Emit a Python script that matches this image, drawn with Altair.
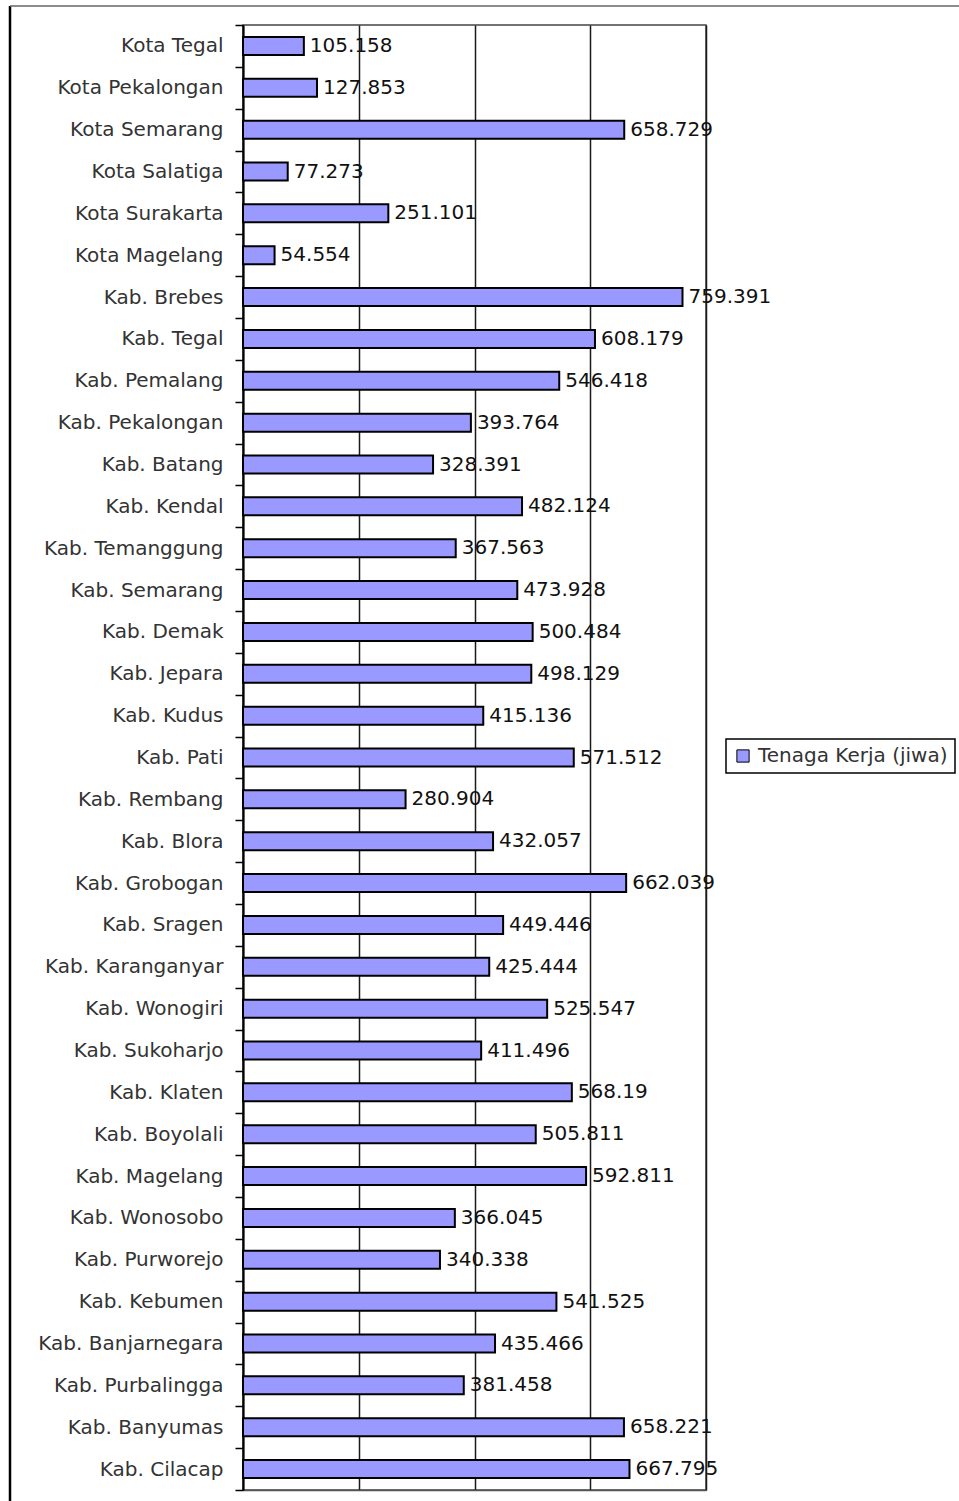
import altair as alt
import pandas as pd

# Regions of Central Java (top to bottom) and their labour force (thousand people)
regions = [
    "Kota Tegal", "Kota Pekalongan", "Kota Semarang", "Kota Salatiga",
    "Kota Surakarta", "Kota Magelang", "Kab. Brebes", "Kab. Tegal",
    "Kab. Pemalang", "Kab. Pekalongan", "Kab. Batang", "Kab. Kendal",
    "Kab. Temanggung", "Kab. Semarang", "Kab. Demak", "Kab. Jepara",
    "Kab. Kudus", "Kab. Pati", "Kab. Rembang", "Kab. Blora",
    "Kab. Grobogan", "Kab. Sragen", "Kab. Karanganyar", "Kab. Wonogiri",
    "Kab. Sukoharjo", "Kab. Klaten", "Kab. Boyolali", "Kab. Magelang",
    "Kab. Wonosobo", "Kab. Purworejo", "Kab. Kebumen", "Kab. Banjarnegara",
    "Kab. Purbalingga", "Kab. Banyumas", "Kab. Cilacap",
]
tenaga_kerja = [
    105.158, 127.853, 658.729, 77.273,
    251.101, 54.554, 759.391, 608.179,
    546.418, 393.764, 328.391, 482.124,
    367.563, 473.928, 500.484, 498.129,
    415.136, 571.512, 280.904, 432.057,
    662.039, 449.446, 425.444, 525.547,
    411.496, 568.19, 505.811, 592.811,
    366.045, 340.338, 541.525, 435.466,
    381.458, 658.221, 667.795,
]
series_name = "Tenaga Kerja (jiwa)"
x_grid_values = [0, 200, 400, 600, 800]

df = pd.DataFrame({
    "wilayah": regions,
    "value": tenaga_kerja,
    "series": [series_name] * len(regions),
})

FONT = "DejaVu Sans"
BAR_FILL = "#9999ff"

# Band scale without padding so the axis ticks fall on category boundaries;
# the bars get a fixed thickness instead.
y_enc = alt.Y(
    "wilayah:N",
    sort=regions,
    scale=alt.Scale(paddingInner=0, paddingOuter=0),
    axis=alt.Axis(
        title=None,
        labelFont=FONT,
        labelFontSize=20,
        labelColor="#333333",
        labelPadding=12,
        labelLimit=0,
        tickBand="extent",
        tickSize=8,
        tickColor="#000000",
        tickWidth=1.5,
        domainColor="#000000",
        domainWidth=2,
        grid=False,
    ),
)
x_enc = alt.X(
    "value:Q",
    scale=alt.Scale(domain=[0, 800], nice=False),
    axis=alt.Axis(
        title=None,
        labels=False,
        ticks=False,
        values=x_grid_values,
        grid=True,
        gridColor="#1a1a1a",
        gridWidth=1.5,
        domainColor="#555555",
        domainWidth=1.5,
    ),
)

base = alt.Chart(df)

bars = base.mark_bar(stroke="#000000", strokeWidth=2, height=18).encode(
    y=y_enc,
    x=x_enc,
    color=alt.Color(
        "series:N",
        scale=alt.Scale(range=[BAR_FILL]),
        legend=alt.Legend(
            title=None,
            orient="none",
            legendX=483,
            legendY=714,
            strokeColor="#000000",
            padding=7,
            symbolType="square",
            symbolSize=150,
            symbolStrokeColor="#000000",
            symbolStrokeWidth=1,
            labelFont=FONT,
            labelFontSize=20,
            labelColor="#333333",
            labelOffset=5,
            labelLimit=0,
        ),
    ),
)

labels = base.mark_text(
    align="left", baseline="middle", dx=6,
    font=FONT, fontSize=20, color="#111111",
).encode(
    y=alt.Y("wilayah:N", sort=regions),
    x=alt.X("value:Q"),
    text=alt.Text("value:Q", format=".3~f"),
)

# Outer chart frame: thick left edge and thin top edge
frame_src = alt.Chart(pd.DataFrame({"k": [0]}))
left_edge = frame_src.mark_rule(color="#000000", strokeWidth=2.5).encode(
    x=alt.value(-233), y=alt.value(-19), y2=alt.value(1476)
)
top_edge = frame_src.mark_rule(color="#666666", strokeWidth=1.5).encode(
    x=alt.value(-233), x2=alt.value(716), y=alt.value(-19)
)

chart = (
    alt.layer(bars, labels, left_edge, top_edge)
    .properties(
        width=463,
        height=1465,
        padding={"left": 243, "top": 25, "right": 253, "bottom": 11},
        autosize=alt.AutoSizeParams(type="none"),
        background="#ffffff",
    )
    .configure_view(stroke="#444444", strokeWidth=1.5)
    .configure_legend(strokeWidth=1.5)
)

chart.save("out.html", embed_options={"renderer": "svg", "actions": False})
